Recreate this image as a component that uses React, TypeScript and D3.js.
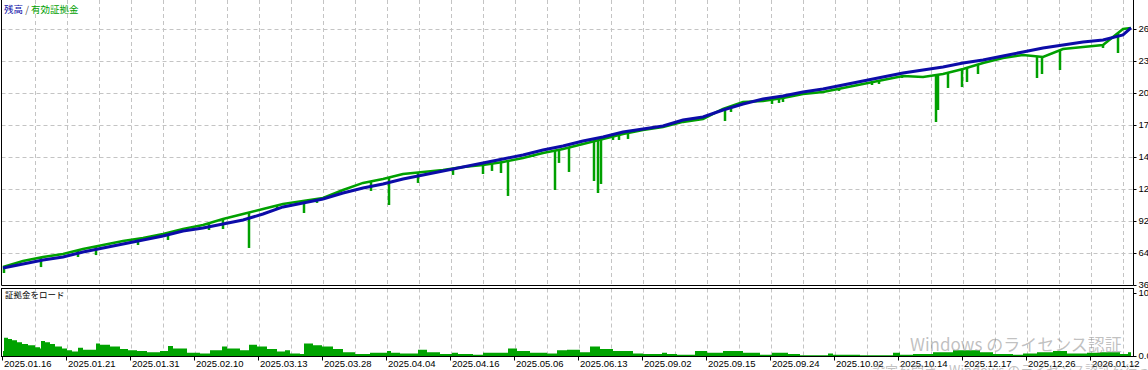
import React from "react";
import * as d3 from "d3";

const W = 1148;
const H = 370;

// x axis: deal index
const dateLabels = [
  "2025.01.16", "2025.01.21", "2025.01.31", "2025.02.10", "2025.03.13", "2025.03.28",
  "2025.04.04", "2025.04.16", "2025.05.06", "2025.06.13", "2025.09.02", "2025.09.15",
  "2025.09.24", "2025.10.02", "2025.10.14", "2025.12.17", "2025.12.26", "2026.01.12",
];
const labelDeals = [0, 32, 64, 96, 128, 160, 192, 224, 256, 288, 320, 352, 384, 416, 448, 480, 512, 544];

const yTicks = [2600, 2320, 2040, 1760, 1480, 1200, 920, 640, 360];
const yTickLabels = ["2600", "2320", "2040", "1760", "1480", "1200", "920", "640", "360"];
const mTicks = [100, 0];
const mTickLabels = ["100", "0.00"];

const balanceDeals = [
  0, 10, 20, 30, 40, 50, 60, 70, 80, 90, 100, 110, 120, 130, 140, 150, 160, 170, 180, 190,
  200, 210, 220, 230, 240, 250, 260, 270, 280, 290, 300, 310, 320, 330, 340, 350, 360, 370, 380, 390,
  400, 410, 420, 430, 440, 450, 460, 470, 480, 490, 500, 510, 520, 530, 540, 550, 560, 564,
];
const balance = [
  509, 544, 579, 605, 649, 684, 719, 754, 789, 833, 859, 894, 929, 981, 1043, 1078, 1113, 1165, 1209, 1244,
  1288, 1323, 1358, 1393, 1428, 1463, 1498, 1541, 1576, 1620, 1655, 1699, 1725, 1751, 1804, 1830, 1891, 1944, 1988, 2014,
  2049, 2075, 2110, 2145, 2180, 2215, 2241, 2268, 2303, 2329, 2364, 2399, 2434, 2460, 2486, 2504, 2548, 2609,
];
const equity = [
  518, 570, 605, 631, 675, 710, 745, 772, 807, 851, 885, 938, 982, 1025, 1069, 1096, 1122, 1191, 1253, 1288,
  1332, 1349, 1367, 1393, 1410, 1437, 1472, 1515, 1550, 1594, 1638, 1681, 1716, 1742, 1787, 1813, 1900, 1962, 1970, 1996,
  2031, 2049, 2084, 2119, 2154, 2189, 2180, 2207, 2250, 2303, 2346, 2373, 2355, 2425, 2442, 2460, 2600, 2609,
];

const dipDeals = [
  0.5, 19, 37.5, 46.5, 67.5, 82.5, 103, 110, 123, 137, 150.5, 157, 184, 193, 207.5, 225, 240, 244.5, 249, 252.5,
  265, 276, 278, 283, 295.5, 297.5, 299, 305, 308, 312.5, 329.5, 347, 361, 364, 384.5, 388, 390, 406.5, 418, 434.5,
  438, 449.5, 466.5, 467.5, 472.5, 479.5, 482, 487.5, 517, 519.5, 528.5, 550, 557.5,
];
const dipLows = [
  465, 517, 605, 622, 710, 754, 841, 850, 684, 1016, 990, 1078, 1183, 1060, 1253, 1323, 1331, 1358, 1340, 1139,
  1480, 1191, 1428, 1349, 1270, 1165, 1244, 1629, 1629, 1638, 1734, 1804, 1795, 1874, 1944, 1953, 1961, 2040, 2058, 2110,
  2119, 2171, 1786, 1891, 2084, 2092, 2136, 2206, 2171, 2206, 2241, 2434, 2390,
];

const marginDeals = [
  0, 0.5, 2.5, 4.5, 7, 9.5, 12.5, 16, 18.5, 19, 21, 23.5, 26, 29.5, 32, 34.5, 37.5, 40, 46.5, 48.5,
  53.5, 58.5, 62.5, 67, 72, 78.5, 82.5, 85, 92, 98.5, 103.5, 109.5, 112, 118.5, 123, 127, 132, 137, 141, 143.5,
  148.5, 150.5, 155, 159.5, 165, 170, 176, 183.5, 190, 192, 194, 198.5, 207.5, 212, 218.5, 224.5, 227.5, 235, 240, 247,
  252.5, 257, 263.5, 272, 277, 282, 288.5, 293.5, 298.5, 305, 315, 320, 329.5, 332, 337, 346, 352, 360, 370, 378.5,
  384.5, 392.5, 398.5, 412.5, 415, 428.5, 445, 448.5, 455, 465, 475, 488.5, 495, 505, 510, 517, 525, 532, 542, 548.5,
  558.5, 562.5, 564,
];
const marginLoad = [
  8, 29, 27, 25, 22, 19, 17, 14, 12, 24, 22, 19, 15, 12, 9, 7, 13, 10, 20, 18,
  15, 11, 9, 8, 6, 8, 16, 12, 5, 4, 9, 15, 12, 9, 18, 15, 11, 7, 9, 4,
  3, 20, 17, 15, 11, 6, 3, 5, 5, 8, 5, 4, 10, 6, 3, 5, 3, 2, 5, 5,
  12, 8, 5, 4, 9, 10, 6, 15, 11, 8, 4, 3, 5, 3, 2, 8, 5, 8, 5, 2,
  5, 3, 1, 4, 2, 1, 5, 2, 3, 6, 9, 6, 3, 2, 4, 6, 8, 4, 5, 6,
  3, 6, 6,
];

const x = d3.scaleLinear().domain([0, 564]).range([3, 1131]);
const y = d3.scaleLinear().domain([360, 2600]).range([285, 29]);
const m = d3.scaleLinear().domain([0, 100]).range([356, 293]);
const eqAt = d3.scaleLinear().domain(balanceDeals).range(equity);

const PANEL_L = 1.5;
const PANEL_R = 1133.5;
const MAIN_B = 285.5;
const SUB_T = 288.5;
const SUB_B = 356.5;

const FONT = "'Liberation Sans', Arial, sans-serif";
const CJK = "'Noto Sans CJK JP', sans-serif";

export default function App() {
  const balLine = d3
    .line<number>()
    .x((_, i) => x(balanceDeals[i]))
    .y((d) => y(d))(balance) as string;
  const eqLine = d3
    .line<number>()
    .x((_, i) => x(balanceDeals[i]))
    .y((d) => y(d))(equity) as string;
  const mArea = d3
    .area<number>()
    .curve(d3.curveStepAfter)
    .x((_, i) => x(marginDeals[i]))
    .y0(m(0))
    .y1((d) => m(d))(marginLoad) as string;

  const gridDeals = d3.range(16, 564, 16);

  return (
    <svg
      width={W}
      height={H}
      style={{ position: "absolute", left: 0, top: 0, background: "#fff" }}
    >
      <rect x={0} y={0} width={W} height={H} fill="#fff" />
      {/* grid main */}
      <g stroke="#c4c4c4" strokeWidth={1} strokeDasharray="4,3">
        {gridDeals.map((d) => (
          <line key={"vm" + d} x1={Math.round(x(d)) + 0.5} x2={Math.round(x(d)) + 0.5} y1={0} y2={MAIN_B} />
        ))}
        {yTicks.slice(0, -1).map((t) => (
          <line key={"h" + t} x1={PANEL_L} x2={PANEL_R} y1={Math.round(y(t)) + 0.5} y2={Math.round(y(t)) + 0.5} />
        ))}
        {gridDeals.map((d) => (
          <line key={"vs" + d} x1={Math.round(x(d)) + 0.5} x2={Math.round(x(d)) + 0.5} y1={SUB_T} y2={SUB_B} />
        ))}
      </g>

      {/* equity */}
      <path d={eqLine} fill="none" stroke="#00a000" strokeWidth={2.5} />
      <g stroke="#00a000" strokeWidth={2.5}>
        {dipDeals.map((d, i) => (
          <line key={"dip" + i} x1={x(d)} x2={x(d)} y1={y(eqAt(d))} y2={y(dipLows[i])} />
        ))}
      </g>
      {/* balance */}
      <path d={balLine} fill="none" stroke="#0c0ca8" strokeWidth={3} />

      {/* margin load */}
      <path d={mArea} fill="#00a300" />

      {/* frames */}
      <g fill="none" stroke="#000" strokeWidth={1}>
        <polyline points={`${PANEL_L},-1 ${PANEL_L},${MAIN_B} ${PANEL_R},${MAIN_B} ${PANEL_R},-1`} />
        <rect x={PANEL_L} y={SUB_T} width={PANEL_R - PANEL_L} height={SUB_B - SUB_T} />
      </g>

      {/* right axis ticks */}
      <g stroke="#000">
        {yTicks.map((t) => (
          <line key={"rt" + t} x1={PANEL_R} x2={PANEL_R + 3} y1={Math.round(y(t)) + 0.5} y2={Math.round(y(t)) + 0.5} />
        ))}
        {mTicks.map((t) => (
          <line key={"mt" + t} x1={PANEL_R} x2={PANEL_R + 3} y1={Math.round(m(t)) + 0.5} y2={Math.round(m(t)) + 0.5} />
        ))}
        {labelDeals.map((d) => (
          <line key={"xt" + d} x1={Math.round(x(d)) - 0.5} x2={Math.round(x(d)) - 0.5} y1={SUB_B} y2={SUB_B + 4} />
        ))}
      </g>
      <g fontFamily={FONT} fontSize={9.5} fill="#000">
        {yTicks.map((t, i) => (
          <text key={"rl" + t} x={PANEL_R + 5} y={y(t)} dy="0.35em">
            {yTickLabels[i]}
          </text>
        ))}
        {mTicks.map((t, i) => (
          <text key={"ml" + t} x={PANEL_R + 5} y={m(t)} dy="0.35em">
            {mTickLabels[i]}
          </text>
        ))}
        {labelDeals.map((d, i) => (
          <text key={"xl" + d} x={x(d) + 1} y={367}>
            {dateLabels[i]}
          </text>
        ))}
      </g>

      {/* titles */}
      <text x={4} y={13} fontFamily={CJK} fontSize={9.5}>
        <tspan fill="#0c0ca8">残高</tspan>
        <tspan fill="#555"> / </tspan>
        <tspan fill="#00a000">有効証拠金</tspan>
      </text>
      <text x={5} y={298} fontFamily={CJK} fontSize={8.5} fill="#000">
        証拠金をロード
      </text>

      {/* OS watermark */}
      <g fontFamily={CJK} fill="rgba(140,140,140,0.55)">
        <text x={910} y={351} fontSize={17}>
          Windows のライセンス認証
        </text>
        <text x={872} y={375} fontSize={13}>
          設定を開き、Windows のライセンス認証を行ってください。
        </text>
      </g>
    </svg>
  );
}
